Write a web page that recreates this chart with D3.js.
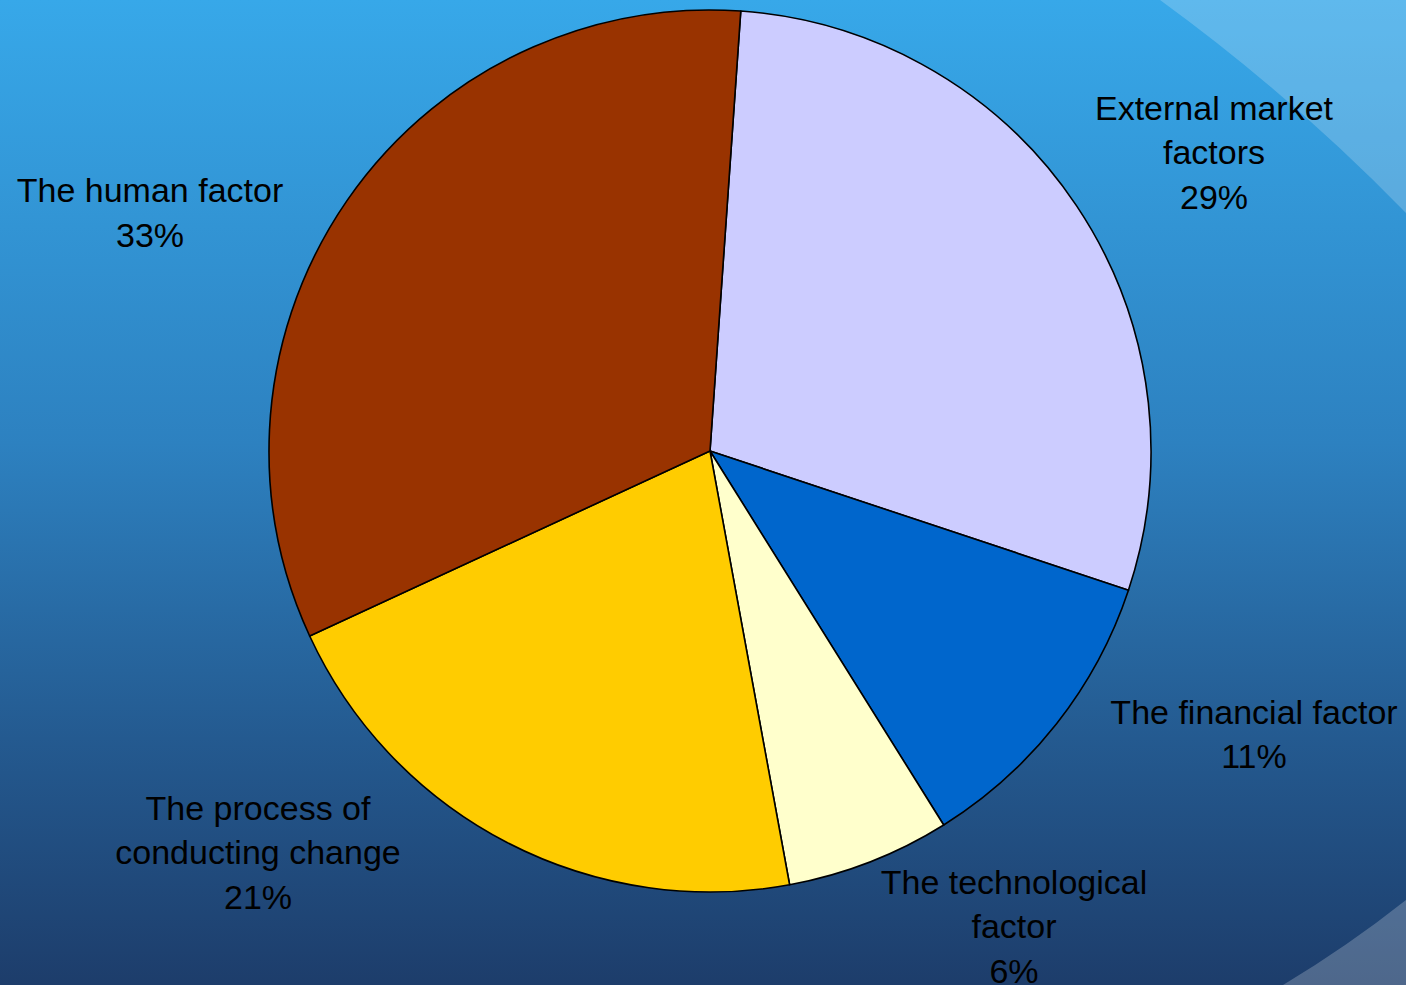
<!DOCTYPE html>
<html>
<head>
<meta charset="utf-8">
<script src="https://cdn.jsdelivr.net/npm/d3@7"></script>
<style>
  html, body { margin: 0; padding: 0; overflow: hidden; }
  svg { display: block; }
  text { font-family: "Liberation Sans", Arial, sans-serif; }
</style>
</head>
<body>
<div id="chart"></div>
<script>
// data
const categories = ["External market factors", "The financial factor", "The technological factor", "The process of conducting change", "The human factor"];
const values = [29, 11, 6, 21, 33];
const labelLines = [["External market", "factors"], ["The financial factor"], ["The technological", "factor"], ["The process of", "conducting change"], ["The human factor"]];
const colors = ["#ccccff", "#0066cc", "#ffffcc", "#ffcc00", "#993300"];

const width = 1406;
const height = 985;
const cx = 710, cy = 451, radius = 441;
const startDeg = 4.0;
// label block centres relative to pie centre (manual placement as in the original)
const labelOffset = [[504, -299], [544, 283], [304, 475], [-452, 401], [-560, -239]];
const fontSize = 34, lineH = 44.5;

const svg = d3.select("#chart")
  .append("svg")
  .attr("width", width)
  .attr("height", height);

// background
const defs = svg.append("defs");
const grad = defs.append("linearGradient")
  .attr("id", "bg").attr("x1", 0).attr("y1", 0).attr("x2", 0).attr("y2", 1);
grad.append("stop").attr("offset", "0%").attr("stop-color", "#37a8e9");
grad.append("stop").attr("offset", "45%").attr("stop-color", "#2d81c0");
grad.append("stop").attr("offset", "75%").attr("stop-color", "#245a90");
grad.append("stop").attr("offset", "100%").attr("stop-color", "#1d3d6b");

svg.append("rect")
  .attr("width", width).attr("height", height)
  .attr("fill", "url(#bg)");

// light swooshes at the right edge
svg.append("path")
  .attr("d", "M1160,0 Q1292,96 1406,213 L1406,0 Z")
  .attr("fill", "#ffffff").attr("fill-opacity", 0.2);
svg.append("path")
  .attr("d", "M1283,985 Q1348,946 1406,900 L1406,985 Z")
  .attr("fill", "#ffffff").attr("fill-opacity", 0.22);

const pie = d3.pie()
  .value(d => d)
  .sort(null)
  .startAngle(startDeg * Math.PI / 180)
  .endAngle((startDeg + 360) * Math.PI / 180);

const arc = d3.arc().innerRadius(0).outerRadius(radius);

const g = svg.append("g").attr("transform", `translate(${cx},${cy})`);

g.selectAll("path")
  .data(pie(values))
  .join("path")
  .attr("d", arc)
  .attr("fill", (d, i) => colors[i])
  .attr("stroke", "#000")
  .attr("stroke-width", 1.6)
  .attr("stroke-linejoin", "round");

// labels
const total = d3.sum(values);
const labels = g.selectAll("text.lbl")
  .data(values)
  .join("text")
  .attr("class", "lbl")
  .attr("text-anchor", "middle")
  .attr("font-size", fontSize)
  .attr("fill", "#000");

labels.each(function (v, i) {
  const lines = labelLines[i].concat([Math.round(v / total * 100) + "%"]);
  const [ox, oy] = labelOffset[i];
  const top = oy - (lines.length - 1) * lineH / 2;
  d3.select(this).selectAll("tspan")
    .data(lines)
    .join("tspan")
    .attr("x", ox)
    .attr("y", (t, k) => top + k * lineH + fontSize * 0.36)
    .text(t => t);
});
</script>
</body>
</html>
